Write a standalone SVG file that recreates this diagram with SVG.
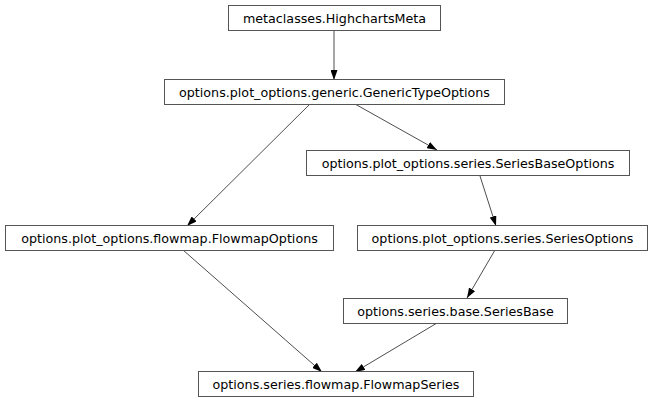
<svg xmlns="http://www.w3.org/2000/svg" width="653" height="403" viewBox="0 0 653 403">
<defs>
<style>
.n rect{fill:#fff;stroke:#555;stroke-width:1}
.n text{font-family:"DejaVu Sans",sans-serif;font-size:12.7px;fill:#000;text-anchor:middle}
.e path{fill:none;stroke:#000;stroke-width:0.7}
</style>
<marker id="a" viewBox="0 0 10 7" refX="10" refY="3.5" markerWidth="10" markerHeight="7" markerUnits="userSpaceOnUse" orient="auto">
<path d="M0,0 L10,3.5 L0,7 Z" fill="#000"/>
</marker>
</defs>
<rect width="653" height="403" fill="#fff"/>
<g class="e">
<path d="M334,30 L334,80" marker-end="url(#a)"/>
<path d="M310,104 L187,226" marker-end="url(#a)"/>
<path d="M355,104 L437,150" marker-end="url(#a)"/>
<path d="M480,176 L496,226" marker-end="url(#a)"/>
<path d="M495,250 L467,298" marker-end="url(#a)"/>
<path d="M183,250 L322,372" marker-end="url(#a)"/>
<path d="M437,323 L355,372" marker-end="url(#a)"/>
</g>
<g id="HighchartsMeta" class="n"><rect x="228.5" y="5.5" width="212" height="25"/><text x="334.5" y="22.5">metaclasses.HighchartsMeta</text></g>
<g id="GenericTypeOptions" class="n"><rect x="164.5" y="79.5" width="340" height="25"/><text x="334.5" y="96.5">options.plot_options.generic.GenericTypeOptions</text></g>
<g id="SeriesBaseOptions" class="n"><rect x="306.5" y="150.5" width="323" height="25"/><text x="468" y="167.5">options.plot_options.series.SeriesBaseOptions</text></g>
<g id="FlowmapOptions" class="n"><rect x="5.5" y="225.5" width="328" height="25"/><text x="169.5" y="242.5">options.plot_options.flowmap.FlowmapOptions</text></g>
<g id="SeriesOptions" class="n"><rect x="357.5" y="225.5" width="290" height="25"/><text x="502.5" y="242.5">options.plot_options.series.SeriesOptions</text></g>
<g id="SeriesBase" class="n"><rect x="343.5" y="298.5" width="224" height="25"/><text x="455.5" y="315.5">options.series.base.SeriesBase</text></g>
<g id="FlowmapSeries" class="n"><rect x="198.5" y="371.5" width="275" height="25"/><text x="336" y="388.5">options.series.flowmap.FlowmapSeries</text></g>
</svg>
